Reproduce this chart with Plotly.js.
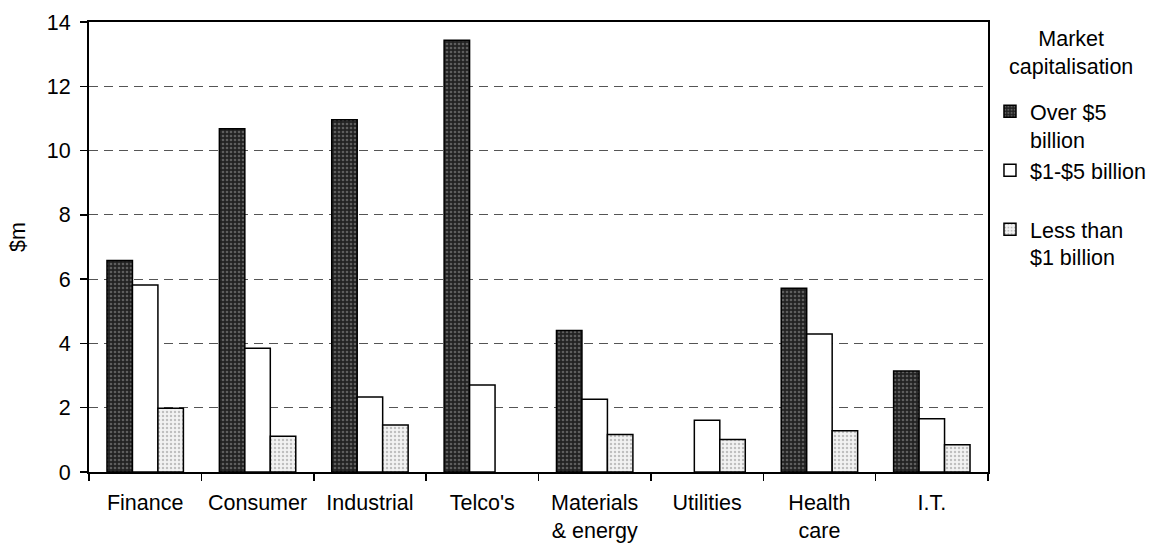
<!DOCTYPE html>
<html>
<head>
<meta charset="utf-8">
<script src="https://cdn.plot.ly/plotly-3.0.1.min.js"></script>
<style>
  html, body { margin: 0; padding: 0; background: #ffffff; }
  #chart { width: 1151px; height: 544px; }
</style>
</head>
<body>
<div id="chart"></div>
<script>
// Sectors along the x axis
const sectors = ["Finance", "Consumer", "Industrial", "Telco's", "Materials<br>& energy", "Utilities", "Health<br>care", "I.T."];

// Values in $m by market capitalisation band
const over5bn = [6.58, 10.68, 10.96, 13.43, 4.40, null, 5.72, 3.14];
const from1to5bn = [5.82, 3.85, 2.33, 2.71, 2.26, 1.61, 4.29, 1.66];
const under1bn = [1.98, 1.11, 1.46, null, 1.17, 1.01, 1.28, 0.85];

// Legend labels
const seriesNames = ["Over $5<br>billion", "$1-$5 billion<br> ", "Less than<br>$1 billion"];
const legendTitle = "Market<br>capitalisation";
const yTitle = "$m";

const FONT = "Liberation Sans, Arial, sans-serif";
const FS = 21.5;

const traces = [
  {
    type: "bar", name: seriesNames[0], x: sectors, y: over5bn,
    marker: {
      color: "#2a2a2a",
      line: { color: "#000000", width: 1.5 },
      pattern: { shape: ".", bgcolor: "#222222", fgcolor: "#999999", size: 4, solidity: 0.35, fillmode: "overlay" }
    }
  },
  {
    type: "bar", name: seriesNames[1], x: sectors, y: from1to5bn,
    marker: { color: "#ffffff", line: { color: "#000000", width: 1.5 } }
  },
  {
    type: "bar", name: seriesNames[2], x: sectors, y: under1bn,
    marker: {
      color: "#eeeeee",
      line: { color: "#000000", width: 1.5 },
      pattern: { shape: ".", bgcolor: "#f2f2f2", fgcolor: "#8c8c8c", size: 4, solidity: 0.3, fillmode: "overlay" }
    }
  }
];

const layout = {
  width: 1151, height: 544,
  paper_bgcolor: "#ffffff", plot_bgcolor: "#ffffff",
  font: { family: FONT, size: FS, color: "#000000" },
  margin: { l: 89, r: 163, t: 22, b: 72, autoexpand: false },
  barmode: "group", bargap: 0.32, bargroupgap: 0,
  showlegend: true,
  legend: {
    x: 1.0022, xanchor: "left", y: 0.847, yanchor: "top",
    font: { size: FS }, valign: "top",
    bgcolor: "rgba(0,0,0,0)", traceorder: "normal"
  },
  annotations: [
    {
      text: legendTitle, xref: "paper", yref: "paper",
      x: 1.0923, y: 0.931, xanchor: "center", yanchor: "middle",
      showarrow: false, align: "center", font: { size: FS }
    },
    {
      text: yTitle, xref: "paper", yref: "paper",
      x: -0.079, y: 0.522, xanchor: "center", yanchor: "middle",
      textangle: -90, showarrow: false, font: { size: FS }
    }
  ],
  xaxis: {
    type: "category", tickson: "boundaries",
    ticks: "outside", ticklen: 7, tickcolor: "#000000", tickwidth: 1.5,
    showline: true, linecolor: "#000000", linewidth: 2, mirror: true,
    showgrid: false, ticklabelstandoff: 10
  },
  yaxis: {
    range: [0, 14], dtick: 2, tick0: 0,
    ticks: "outside", ticklen: 7, tickcolor: "#000000", tickwidth: 1.5,
    showline: true, linecolor: "#000000", linewidth: 2, mirror: true,
    showgrid: true, gridcolor: "#555555", gridwidth: 1.2, griddash: "9px,6px",
    zeroline: false, ticklabelstandoff: 5
  }
};

Plotly.newPlot("chart", traces, layout, { displayModeBar: false, staticPlot: true });
</script>
</body>
</html>
